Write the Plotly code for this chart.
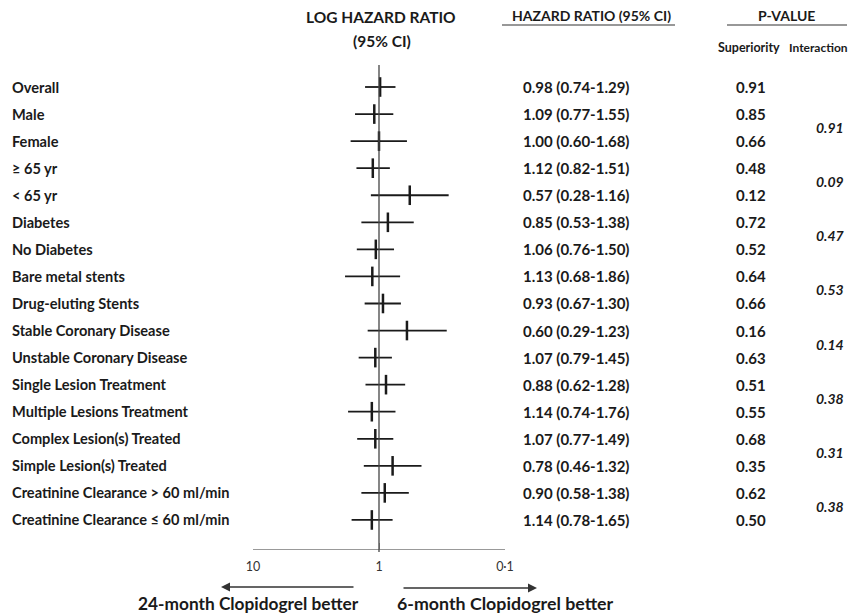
import plotly.graph_objects as go

labels = ["Overall", "Male", "Female", "≥ 65 yr", "< 65 yr", "Diabetes", "No Diabetes",
          "Bare metal stents", "Drug-eluting Stents", "Stable Coronary Disease",
          "Unstable Coronary Disease", "Single Lesion Treatment", "Multiple Lesions Treatment",
          "Complex Lesion(s) Treated", "Simple Lesion(s) Treated",
          "Creatinine Clearance > 60 ml/min", "Creatinine Clearance ≤ 60 ml/min"]
hr = [0.98, 1.09, 1.00, 1.12, 0.57, 0.85, 1.06, 1.13, 0.93, 0.60, 1.07, 0.88, 1.14, 1.07, 0.78, 0.90, 1.14]
lo = [0.74, 0.77, 0.60, 0.82, 0.28, 0.53, 0.76, 0.68, 0.67, 0.29, 0.79, 0.62, 0.74, 0.77, 0.46, 0.58, 0.78]
hi = [1.29, 1.55, 1.68, 1.51, 1.16, 1.38, 1.50, 1.86, 1.30, 1.23, 1.45, 1.28, 1.76, 1.49, 1.32, 1.38, 1.65]
p_sup = ["0.91", "0.85", "0.66", "0.48", "0.12", "0.72", "0.52", "0.64", "0.66", "0.16",
         "0.63", "0.51", "0.55", "0.68", "0.35", "0.62", "0.50"]
p_int = ["0.91", "0.09", "0.47", "0.53", "0.14", "0.38", "0.31", "0.38"]
tick_vals = [10, 1, 0.1]
tick_text = ["10", "1", "0·1"]

FONT = "Lato"
DARK = "#1a1a1a"
W, H = 859, 616
OFF = 8  # page body margin
L, R, T, B = 253, 505, 65, 549  # plot area in page pixels


def px(xp):
    return (xp - L) / (R - L)


def py(yp):
    return (B - yp) / (B - T)


ROW0, ROWH = 87, 27.06
rows = list(range(len(labels)))
fig = go.Figure()

cx, cy = [], []
for i in rows:
    cx += [lo[i], hi[i], None]
    cy += [i, i, None]
fig.add_trace(go.Scatter(x=cx, y=cy, mode="lines", line=dict(color=DARK, width=1.8),
                         hoverinfo="skip", showlegend=False))
fig.add_trace(go.Scatter(x=hr, y=rows, mode="markers",
                         marker=dict(symbol="line-ns", size=14, line=dict(color=DARK, width=2.5)),
                         showlegend=False))

fig.add_shape(type="line", x0=1, x1=1, xref="x", yref="paper", y0=py(552), y1=py(65),
              line=dict(color="#444", width=1.3), layer="above")


def txt(x, y, text, size, xanchor="center", xref="paper", yref="paper", color=DARK):
    return dict(x=x, y=y, xref=xref, yref=yref, text=text, xanchor=xanchor, yanchor="middle",
                showarrow=False, font=dict(size=size, color=color, family=FONT))


ann = []
for i in rows:
    ann.append(txt(px(10), i, "<b>%s</b>" % labels[i], 14.6, "left", yref="y"))
    ann.append(txt(px(576), i, "<b>%.2f (%.2f-%.2f)</b>" % (hr[i], lo[i], hi[i]), 15, yref="y"))
    ann.append(txt(px(751), i, "<b>%s</b>" % p_sup[i], 15, yref="y"))
for k, v in enumerate(p_int):
    ann.append(txt(px(830), 1.5 + 2 * k, "<b><i>%s</i></b>" % v, 14, yref="y"))

ann += [
    txt(px(381), py(17), "<b>LOG HAZARD RATIO</b>", 15.5),
    txt(px(382), py(41), "<b>(95% CI)</b>", 15.5),
    txt(px(591), py(15), "<b>HAZARD RATIO (95% CI)</b>", 14),
    txt(px(786), py(15), "<b>P-VALUE</b>", 14),
    txt(px(749), py(47), "<b>Superiority</b>", 12.5),
    txt(px(850), py(47), "<b>Interaction</b>", 12, "right"),
    txt(px(248), py(603), "<b>24-month Clopidogrel better</b>", 17.3),
    txt(px(505), py(603), "<b>6-month Clopidogrel better</b>", 17.8),
    dict(x=px(221), y=py(587), xref="paper", yref="paper", text="", showarrow=True,
         ax=134, ay=0, arrowhead=2, arrowsize=1.2, arrowwidth=1.5, arrowcolor="#333"),
    dict(x=px(537), y=py(588), xref="paper", yref="paper", text="", showarrow=True,
         ax=-135, ay=0, arrowhead=2, arrowsize=1.2, arrowwidth=1.5, arrowcolor="#333"),
]

for x0, x1 in [(502, 675), (727, 847)]:
    fig.add_shape(type="line", xref="paper", yref="paper", x0=px(x0), x1=px(x1),
                  y0=py(25), y1=py(25), line=dict(color="#333", width=1.2))

fig.update_layout(
    width=W, height=H,
    margin=dict(l=L - OFF, r=W - (R - OFF), t=T - OFF, b=H - (B - OFF)),
    paper_bgcolor="white", plot_bgcolor="white",
    font=dict(family=FONT, color=DARK),
    annotations=ann,
    xaxis=dict(type="log", range=[1, -1], showgrid=False, zeroline=False,
               showline=True, linecolor="#999", linewidth=1.2,
               ticks="inside", ticklen=6, tickcolor="#999", tickwidth=1.2,
               tickvals=tick_vals, ticktext=tick_text, ticklabelstandoff=6,
               tickfont=dict(size=12.5, color="#333", family=FONT)),
    yaxis=dict(range=[(B - ROW0) / ROWH, -(ROW0 - T) / ROWH], showgrid=False, zeroline=False,
               showline=False, showticklabels=False, ticks=""),
)

fig.write_html("out.html")
